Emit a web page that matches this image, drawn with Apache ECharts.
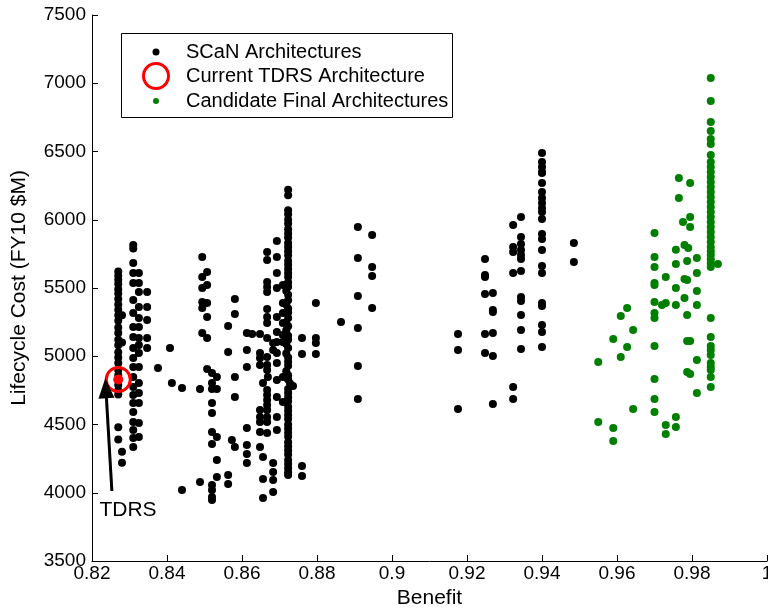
<!DOCTYPE html>
<html>
<head>
<meta charset="utf-8">
<script src="https://cdn.jsdelivr.net/npm/echarts@6/dist/echarts.min.js"></script>
<style>
  html, body { margin: 0; padding: 0; background: #fff; }
  #chart { width: 768px; height: 609px; }
</style>
</head>
<body>
<div id="chart"></div>
<script>
// [benefit, lifecycle cost], grouped by cluster
var scanLeft = [
  [0.827,5620],[0.827,5590],[0.827,5560],[0.827,5530],[0.827,5490],[0.827,5460],[0.827,5420],[0.827,5380],
  [0.827,5340],[0.827,5300],[0.827,5260],[0.827,5210],[0.827,5170],[0.827,5120],[0.827,5080],[0.827,5030],
  [0.827,4990],[0.827,4950],[0.827,4900],[0.827,4860],[0.827,4790],[0.827,4750],[0.827,4720],[0.827,4480],
  [0.827,4390],[0.828,4300],[0.828,4220],[0.828,5300],[0.828,5100],
  [0.831,5815],[0.831,5790],[0.831,5683],[0.831,5610],[0.831,5537],[0.831,5412],[0.831,5317],[0.831,5214],
  [0.831,5141],[0.831,5060],[0.831,4987],[0.831,4921],[0.831,4848],[0.831,4775],[0.831,4716],[0.831,4658],
  [0.831,4592],[0.831,4518],[0.831,4460],[0.831,4401],[0.831,4335],
  [0.8325,5610],[0.8325,5537],[0.8325,5471],[0.8325,5361],[0.8325,5280],[0.8325,5214],[0.8325,5134],
  [0.8325,5082],[0.8325,5024],[0.8325,4921],[0.8325,4804],[0.8325,4731],[0.8325,4658],[0.8325,4511],[0.8325,4409],
  [0.8347,5471],[0.8347,5361],[0.8347,5266],[0.8347,5134],[0.8347,5060],
  [0.8408,5060],[0.8376,4914],[0.8413,4804],[0.844,4768],[0.844,4020]
];
var scanMid = [
  [0.8494,5727],[0.8507,5617],[0.8494,5581],[0.8507,5522],[0.8494,5500],[0.8494,5397],[0.8507,5390],
  [0.8494,5353],[0.8507,5288],[0.8494,5170],[0.8507,5134],
  [0.8507,4907],[0.852,4877],[0.8533,4848],[0.852,4804],[0.852,4760],[0.8533,4760],[0.8488,4760],[0.852,4658],
  [0.852,4584],[0.852,4445],[0.8533,4409],[0.852,4357],[0.8533,4240],[0.8533,4115],[0.8488,4079],[0.852,4057],
  [0.852,4020],[0.852,3969],[0.852,3947],
  [0.8563,4130],[0.8563,4064],[0.8573,4387],[0.8581,4335],[0.8613,4474],[0.8613,4350],[0.8613,4284],[0.8613,4218],
  [0.8648,4335],[0.8656,4262],[0.8656,4101],[0.8656,3962],[0.8683,4218],[0.8683,4152],[0.8683,4093],[0.8683,4006],
  [0.8563,5222],[0.8563,5031],[0.8581,5419],[0.8581,5310],[0.8581,4848],[0.8581,4701],[0.8613,5170],[0.8627,5163],
  [0.8648,5163],[0.8613,5046],[0.8613,4921],[0.8648,5024],[0.8648,4987],[0.8648,4936],[0.8656,4804],[0.8669,4848],
  [0.8667,5764],[0.8667,5705],[0.8667,5544],[0.8667,5507],[0.8667,5471],[0.8667,5346],[0.8667,5288],[0.8667,5244],
  [0.8667,5134],[0.8667,4995],[0.8667,4936],[0.8667,4899],[0.8667,4753],[0.8667,4716],[0.8667,4680],[0.8667,4643],
  [0.8667,4606],[0.8667,4555],[0.8667,4518],[0.8667,4438],
  [0.8648,4606],[0.8648,4555],[0.8648,4518],[0.8648,4445],
  [0.8693,5844],[0.8693,5727],[0.8693,5610],[0.8693,5500],[0.8693,5288],[0.8693,5178],[0.8693,5104],[0.8693,5024],
  [0.8693,4951],[0.8693,4826],[0.8693,4701],[0.8693,4555],[0.8693,4460],
  [0.8683,5097],[0.8683,5046],
  [0.8709,5522],[0.8709,5390],[0.8709,5317],[0.8709,5244],[0.8709,5156],[0.8709,5104],[0.8709,4848],[0.8709,4665],
  [0.8736,4782]
];
var scanColumn = [
  [0.8723,6220],[0.8723,6180],[0.8723,6070],[0.8723,6040],[0.8723,6000],[0.8723,5970],[0.8723,5930],[0.8723,5900],
  [0.8723,5870],[0.8723,5830],[0.8723,5800],[0.8723,5770],[0.8723,5740],[0.8723,5700],[0.8723,5670],[0.8723,5640],
  [0.8723,5610],[0.8723,5580],[0.8723,5540],[0.8723,5510],[0.8718,5480],[0.8723,5450],[0.8723,5410],[0.8718,5380],
  [0.8723,5350],[0.8723,5320],[0.8723,5280],[0.8718,5250],[0.8723,5220],[0.8718,5190],[0.8723,5150],[0.8723,5120],
  [0.8718,5090],[0.8723,5060],[0.8718,5020],[0.8723,4990],[0.8723,4960],[0.8723,4930],[0.8718,4890],[0.8723,4860],
  [0.8723,4830],[0.8728,4800],[0.8723,4760],[0.8723,4730],[0.8723,4700],[0.8723,4670],[0.8723,4630],[0.8723,4600],
  [0.8723,4570],[0.8723,4540],[0.8723,4500],[0.8723,4470],[0.8723,4440],[0.8723,4410],[0.8723,4370],[0.8723,4340],
  [0.8723,4310],[0.8723,4280],[0.8723,4240],[0.8723,4210],[0.8723,4180],[0.8723,4150],[0.8723,4130]
];
var scanRight = [
  [0.876,5134],[0.876,5017],[0.876,4196],[0.876,4123],
  [0.8797,5390],[0.8797,5134],[0.8797,5097],[0.8797,5017],
  [0.8864,5251],
  [0.8909,5947],[0.8909,5720],[0.8909,5441],[0.8909,5207],[0.8909,4929],[0.8909,4687],
  [0.8947,5888],[0.8947,5654],[0.8947,5588],[0.8947,5353],
  [0.9176,5163],[0.9176,5046],[0.9176,4614],
  [0.9248,5712],[0.9248,5595],[0.9248,5581],[0.9248,5456],[0.9248,5163],[0.9248,5024],
  [0.9269,5463],[0.9269,5339],[0.9269,5324],[0.9269,5170],[0.9269,5002],[0.9269,4650],
  [0.9323,5962],[0.9323,5800],[0.9323,5764],[0.9323,5610],[0.9323,4775],[0.9323,4687],
  [0.9344,6020],[0.9344,5874],[0.9344,5823],[0.9344,5778],[0.9344,5742],[0.9344,5712],[0.9344,5625],[0.9344,5434],
  [0.9344,5405],[0.9344,5302],[0.9344,5192],[0.9344,5053],
  [0.94,6489],[0.94,6423],[0.94,6386],[0.94,6350],[0.94,6342],[0.94,6269],[0.94,6203],[0.94,6159],[0.94,6123],
  [0.94,6086],[0.94,6057],[0.94,6005],[0.94,5896],[0.94,5859],[0.94,5778],[0.94,5661],[0.94,5610],[0.94,5390],
  [0.94,5368],[0.94,5229],[0.94,5178],[0.94,5068],
  [0.9485,5830],[0.9485,5690]
];
var candidates = [
  [0.985,7038],[0.985,6870],[0.985,6716],[0.985,6650],[0.985,6592],[0.985,6555],[0.985,6474],[0.985,6423],
  [0.985,6386],[0.985,6350],[0.985,6313],[0.985,6277],[0.985,6240],[0.985,6203],[0.985,6167],[0.985,6130],
  [0.985,6093],[0.985,6057],[0.985,6020],[0.985,5984],[0.985,5947],[0.985,5910],[0.985,5874],[0.985,5837],
  [0.985,5800],[0.985,5770],[0.985,5742],[0.985,5710],[0.985,5683],[0.985,5654],[0.9869,5676],
  [0.985,5280],[0.985,5141],[0.985,5075],[0.985,5046],[0.985,5009],[0.985,4951],[0.985,4921],[0.985,4899],
  [0.985,4848],[0.985,4775],
  [0.9765,6306],[0.9765,6159],[0.9795,6269],[0.9795,6020],[0.9795,5947],[0.9776,5984],
  [0.9757,5780],[0.9757,5676],[0.9757,5500],[0.9757,5375],[0.9757,4555],[0.9757,4482],
  [0.978,5815],[0.979,5793],[0.9787,5698],[0.978,5566],[0.9787,5559],[0.978,5427],[0.9787,5302],
  [0.9813,5720],[0.9813,5610],[0.9813,5478],[0.9813,5375],[0.9813,4973],[0.9813,4731],
  [0.9787,5112],[0.9795,5112],[0.9787,4885],[0.9795,4870],
  [0.97,5903],[0.97,5727],[0.97,5654],[0.97,5537],[0.97,5522],[0.97,5397],[0.97,5317],[0.97,5280],
  [0.97,5075],[0.97,4833],[0.97,4687],[0.97,4592],
  [0.973,5581],[0.972,5375],[0.973,5390],[0.973,4496],[0.973,4430],
  [0.9627,5353],[0.9627,5068],[0.961,5295],[0.961,4995],[0.9643,5192],[0.9643,4614],
  [0.959,5126],[0.959,4474],[0.959,4379],[0.955,4958],[0.955,4518]
];
var tdrsPoint = [0.827, 4830];
var arrowTail = [0.8253, 4013];
var arrowHead = [0.8237, 4765];
var tdrsLabelAt = [0.8296, 3875];

var xTicks = { min: 0.82, max: 1, step: 0.02 };
var yTicks = { min: 3500, max: 7500, step: 500 };

var FONT = 'Liberation Sans';
var scanAll = scanLeft.concat(scanMid, scanColumn, scanRight);

var myChart = echarts.init(document.getElementById('chart'), null, { renderer: 'canvas' });

// legends are placed by the bounding box of their icon, so left is icon edge
var legendBase = {
  orient: 'vertical',
  padding: 0,
  itemWidth: 50,
  selectedMode: false,
  textStyle: { fontFamily: FONT, fontSize: 20, color: '#000' }
};

var option = {
  animation: false,
  backgroundColor: '#fff',
  grid: { left: 92, right: 1, top: 15, bottom: 48, outerBoundsMode: 'none', containLabel: false },
  xAxis: {
    type: 'value',
    min: xTicks.min,
    max: xTicks.max,
    interval: xTicks.step,
    name: 'Benefit',
    nameLocation: 'middle',
    nameGap: 27,
    nameTextStyle: { fontFamily: FONT, fontSize: 21, color: '#000' },
    axisLine: { lineStyle: { color: '#000', width: 1 } },
    axisTick: { inside: true, length: 6, lineStyle: { color: '#000' } },
    axisLabel: { fontFamily: FONT, fontSize: 19, color: '#000', margin: 3 },
    splitLine: { show: false }
  },
  yAxis: {
    type: 'value',
    min: yTicks.min,
    max: yTicks.max,
    interval: yTicks.step,
    name: 'Lifecycle Cost (FY10 $M)',
    nameLocation: 'middle',
    nameGap: 62,
    nameTextStyle: { fontFamily: FONT, fontSize: 21, color: '#000' },
    axisLine: { show: true, lineStyle: { color: '#000', width: 1 } },
    axisTick: { show: true, inside: true, length: 6, lineStyle: { color: '#000' } },
    axisLabel: {
      fontFamily: FONT, fontSize: 19, color: '#000', margin: 6,
      formatter: function(v) { return String(v); }
    },
    splitLine: { show: false }
  },
  legend: [
    Object.assign({}, legendBase, {
      left: 152.5, top: 42, itemHeight: 7,
      data: ['SCaN Architectures']
    }),
    Object.assign({}, legendBase, {
      left: 142, top: 62, itemHeight: 25,
      data: ['Current TDRS Architecture'],
      itemStyle: { color: 'rgba(0,0,0,0)', borderColor: '#ff0000', borderWidth: 3 }
    }),
    Object.assign({}, legendBase, {
      left: 153, top: 91, itemHeight: 6,
      data: ['Candidate Final Architectures']
    })
  ],
  graphic: [{
    type: 'rect',
    left: 121,
    top: 33,
    z: 0,
    shape: { width: 331, height: 84 },
    style: { fill: '#fff', stroke: '#000', lineWidth: 1 }
  }],
  series: [
    {
      name: 'SCaN Architectures',
      type: 'scatter',
      symbol: 'circle',
      symbolSize: 8,
      itemStyle: { color: '#000', opacity: 1 },
      data: scanAll,
      z: 2
    },
    {
      name: 'Current TDRS Architecture',
      type: 'scatter',
      symbol: 'circle',
      symbolSize: 24,
      itemStyle: { color: 'rgba(0,0,0,0)', borderColor: '#ff0000', borderWidth: 3, opacity: 1 },
      data: [
        tdrsPoint,
        { value: tdrsPoint, symbolSize: 10, itemStyle: { color: '#ff0000', borderWidth: 0 } }
      ],
      z: 4,
      markLine: {
        silent: true,
        symbol: ['none', 'triangle'],
        symbolSize: [16, 20],
        lineStyle: { color: '#000', width: 3, type: 'solid' },
        label: { show: false },
        data: [[{ coord: arrowTail }, { coord: arrowHead }]]
      },
      markPoint: {
        silent: true,
        symbol: 'rect',
        symbolSize: 1,
        itemStyle: { color: 'rgba(0,0,0,0)' },
        label: { show: true, formatter: 'TDRS', position: 'inside', fontFamily: FONT, fontSize: 21, color: '#000' },
        data: [{ coord: tdrsLabelAt }]
      }
    },
    {
      name: 'Candidate Final Architectures',
      type: 'scatter',
      symbol: 'circle',
      symbolSize: 8,
      itemStyle: { color: '#007f00', opacity: 1 },
      data: candidates,
      z: 3
    }
  ]
};

myChart.setOption(option);
window.addEventListener('resize', function() {
  myChart.resize();
});
</script>
</body>
</html>
